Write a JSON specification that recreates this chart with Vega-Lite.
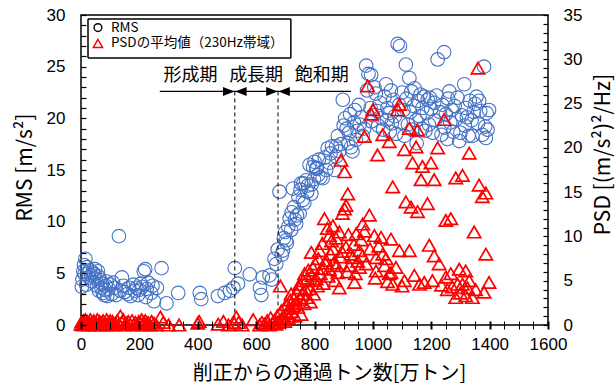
{
  "$schema": "https://vega.github.io/schema/vega-lite/v6.json",
  "width": 467,
  "height": 310,
  "autosize": {"type": "none"},
  "padding": {"left": 81, "top": 15, "right": 68, "bottom": 60},
  "background": "white",
  "config": {
    "view": {"stroke": "black", "strokeWidth": 1.5},
    "axis": {"grid": false, "domain": false, "ticks": true, "tickColor": "black", "tickWidth": 1, "labelColor": "black", "labelFont": "Liberation Sans", "labelFontSize": 17, "labelOverlap": false, "labelFlush": false, "titleColor": "black", "titleFont": "Noto Sans CJK JP", "titleFontWeight": "normal"}
  },
  "datasets": {
    "rms": [
      {"x":3,"v":3.7},{"x":5,"v":4.4},{"x":8,"v":5.2},{"x":10,"v":5.8},{"x":15,"v":6.4},{"x":12,"v":4.9},{"x":18,"v":3.9},{"x":20,"v":5.6},{"x":25,"v":5.0},{"x":28,"v":4.6},{"x":30,"v":5.3},{"x":35,"v":4.8},{"x":38,"v":4.2},{"x":40,"v":5.1},{"x":45,"v":4.9},{"x":48,"v":5.4},{"x":50,"v":4.5},{"x":55,"v":3.8},{"x":58,"v":5.2},{"x":60,"v":4.7},{"x":62,"v":3.3},{"x":65,"v":4.4},{"x":70,"v":3.6},{"x":72,"v":4.0},{"x":75,"v":3.1},{"x":80,"v":2.9},{"x":82,"v":3.4},{"x":85,"v":3.8},{"x":88,"v":4.2},{"x":90,"v":2.8},{"x":95,"v":3.5},{"x":100,"v":3.9},{"x":105,"v":3.0},{"x":110,"v":4.1},{"x":115,"v":3.6},{"x":120,"v":2.9},{"x":130,"v":8.6},{"x":135,"v":3.3},{"x":140,"v":4.6},{"x":145,"v":3.8},{"x":150,"v":3.2},{"x":160,"v":3.0},{"x":165,"v":3.6},{"x":170,"v":2.8},{"x":180,"v":3.9},{"x":185,"v":3.3},{"x":190,"v":3.6},{"x":195,"v":2.9},{"x":200,"v":3.4},{"x":205,"v":4.0},{"x":210,"v":3.7},{"x":215,"v":5.2},{"x":220,"v":5.4},{"x":222,"v":2.7},{"x":225,"v":3.5},{"x":230,"v":4.1},{"x":240,"v":3.1},{"x":245,"v":3.8},{"x":250,"v":2.3},{"x":260,"v":3.6},{"x":276,"v":5.5},{"x":293,"v":2.1},{"x":333,"v":3.1},{"x":407,"v":3.1},{"x":412,"v":2.5},{"x":469,"v":2.8},{"x":492,"v":3.1},{"x":510,"v":3.3},{"x":522,"v":3.6},{"x":527,"v":5.5},{"x":538,"v":4.0},{"x":578,"v":4.9},{"x":613,"v":3.6},{"x":618,"v":2.9},{"x":623,"v":4.6},{"x":646,"v":4.8},{"x":654,"v":4.4},{"x":663,"v":6.4},{"x":669,"v":5.9},{"x":674,"v":7.3},{"x":680,"v":12.9},{"x":688,"v":6.8},{"x":692,"v":7.2},{"x":695,"v":8.4},{"x":700,"v":9.0},{"x":703,"v":8.2},{"x":705,"v":7.9},{"x":710,"v":9.5},{"x":715,"v":10.3},{"x":720,"v":9.2},{"x":722,"v":10.9},{"x":726,"v":13.2},{"x":730,"v":11.4},{"x":733,"v":10.2},{"x":737,"v":9.8},{"x":740,"v":10.6},{"x":745,"v":12.4},{"x":749,"v":10.8},{"x":752,"v":13.1},{"x":754,"v":13.7},{"x":760,"v":12.1},{"x":762,"v":13.7},{"x":765,"v":11.8},{"x":771,"v":14.0},{"x":775,"v":12.9},{"x":778,"v":13.5},{"x":783,"v":15.5},{"x":789,"v":12.7},{"x":790,"v":13.6},{"x":795,"v":15.3},{"x":798,"v":14.1},{"x":800,"v":15.8},{"x":806,"v":15.2},{"x":808,"v":15.1},{"x":812,"v":14.5},{"x":815,"v":16.0},{"x":820,"v":14.3},{"x":828,"v":14.2},{"x":835,"v":16.2},{"x":840,"v":15.0},{"x":845,"v":17.1},{"x":851,"v":15.7},{"x":855,"v":16.6},{"x":860,"v":17.3},{"x":868,"v":15.0},{"x":874,"v":16.3},{"x":874,"v":17.3},{"x":880,"v":18.3},{"x":885,"v":16.8},{"x":890,"v":17.5},{"x":897,"v":21.8},{"x":900,"v":19.3},{"x":905,"v":20.0},{"x":910,"v":19.0},{"x":915,"v":17.6},{"x":918,"v":18.6},{"x":922,"v":20.4},{"x":925,"v":17.2},{"x":930,"v":16.8},{"x":935,"v":19.6},{"x":938,"v":20.8},{"x":942,"v":17.9},{"x":948,"v":18.8},{"x":952,"v":21.3},{"x":955,"v":19.4},{"x":960,"v":20.1},{"x":965,"v":18.3},{"x":970,"v":19.0},{"x":977,"v":25.1},{"x":980,"v":22.7},{"x":985,"v":24.3},{"x":994,"v":24.2},{"x":992,"v":21.0},{"x":995,"v":19.7},{"x":1000,"v":20.3},{"x":1005,"v":23.0},{"x":1010,"v":22.4},{"x":1015,"v":20.7},{"x":1018,"v":19.3},{"x":1025,"v":21.5},{"x":1030,"v":20.0},{"x":1035,"v":18.9},{"x":1040,"v":22.1},{"x":1045,"v":23.3},{"x":1048,"v":19.8},{"x":1050,"v":21.0},{"x":1055,"v":20.5},{"x":1058,"v":18.7},{"x":1062,"v":22.7},{"x":1065,"v":19.5},{"x":1070,"v":21.8},{"x":1075,"v":20.2},{"x":1080,"v":18.5},{"x":1085,"v":27.2},{"x":1090,"v":21.3},{"x":1093,"v":27.0},{"x":1095,"v":19.6},{"x":1100,"v":22.5},{"x":1105,"v":20.8},{"x":1108,"v":18.3},{"x":1113,"v":25.2},{"x":1115,"v":21.9},{"x":1120,"v":19.4},{"x":1125,"v":23.9},{"x":1128,"v":20.6},{"x":1132,"v":22.6},{"x":1135,"v":18.9},{"x":1140,"v":21.2},{"x":1143,"v":22.9},{"x":1148,"v":19.8},{"x":1150,"v":17.6},{"x":1155,"v":21.7},{"x":1160,"v":20.2},{"x":1163,"v":22.3},{"x":1168,"v":19.0},{"x":1170,"v":21.0},{"x":1175,"v":22.1},{"x":1180,"v":18.8},{"x":1185,"v":20.5},{"x":1188,"v":21.8},{"x":1192,"v":19.4},{"x":1195,"v":22.0},{"x":1200,"v":20.9},{"x":1205,"v":18.6},{"x":1210,"v":21.5},{"x":1213,"v":19.8},{"x":1218,"v":22.2},{"x":1222,"v":25.7},{"x":1230,"v":20.6},{"x":1235,"v":18.4},{"x":1238,"v":21.3},{"x":1244,"v":26.4},{"x":1245,"v":19.1},{"x":1250,"v":20.4},{"x":1255,"v":18.0},{"x":1258,"v":21.9},{"x":1262,"v":22.6},{"x":1265,"v":19.6},{"x":1270,"v":20.8},{"x":1275,"v":18.7},{"x":1280,"v":21.2},{"x":1285,"v":19.9},{"x":1290,"v":22.0},{"x":1296,"v":17.8},{"x":1300,"v":18.6},{"x":1305,"v":20.3},{"x":1313,"v":23.3},{"x":1315,"v":19.3},{"x":1318,"v":21.0},{"x":1322,"v":20.1},{"x":1328,"v":18.3},{"x":1332,"v":21.7},{"x":1338,"v":19.8},{"x":1341,"v":18.3},{"x":1345,"v":20.6},{"x":1350,"v":21.4},{"x":1355,"v":22.1},{"x":1360,"v":19.5},{"x":1364,"v":21.7},{"x":1368,"v":20.7},{"x":1375,"v":18.4},{"x":1381,"v":25.0},{"x":1385,"v":19.2},{"x":1387,"v":18.1},{"x":1390,"v":20.5},{"x":1393,"v":18.9},{"x":1398,"v":20.8}
    ],
    "psd": [
      {"x":0,"v":0.1},{"x":3,"v":0.4},{"x":6,"v":0.0},{"x":9,"v":0.5},{"x":12,"v":0.2},{"x":15,"v":0.6},{"x":18,"v":0.1},{"x":22,"v":0.4},{"x":25,"v":0.0},{"x":28,"v":0.3},{"x":32,"v":0.6},{"x":35,"v":0.1},{"x":40,"v":0.3},{"x":44,"v":0.5},{"x":48,"v":0.0},{"x":52,"v":0.2},{"x":56,"v":0.6},{"x":60,"v":0.1},{"x":64,"v":0.4},{"x":68,"v":0.0},{"x":72,"v":0.3},{"x":76,"v":0.5},{"x":80,"v":0.1},{"x":84,"v":0.2},{"x":88,"v":0.6},{"x":92,"v":0.0},{"x":96,"v":0.3},{"x":100,"v":0.5},{"x":104,"v":0.1},{"x":108,"v":0.4},{"x":112,"v":0.0},{"x":118,"v":0.2},{"x":124,"v":0.5},{"x":130,"v":0.1},{"x":135,"v":1.0},{"x":140,"v":0.3},{"x":145,"v":0.6},{"x":150,"v":0.0},{"x":156,"v":0.2},{"x":162,"v":0.4},{"x":168,"v":0.1},{"x":175,"v":0.5},{"x":180,"v":0.0},{"x":186,"v":0.3},{"x":192,"v":0.1},{"x":198,"v":0.4},{"x":204,"v":0.2},{"x":208,"v":0.6},{"x":212,"v":0.0},{"x":216,"v":0.3},{"x":220,"v":0.5},{"x":224,"v":0.1},{"x":230,"v":0.3},{"x":236,"v":0.0},{"x":242,"v":0.4},{"x":250,"v":0.2},{"x":258,"v":0.0},{"x":272,"v":0.9},{"x":282,"v":0.3},{"x":300,"v":0.0},{"x":336,"v":0.0},{"x":400,"v":0.2},{"x":405,"v":0.4},{"x":470,"v":0.1},{"x":488,"v":0.4},{"x":505,"v":0.0},{"x":525,"v":0.2},{"x":532,"v":0.9},{"x":540,"v":0.3},{"x":552,"v":0.0},{"x":590,"v":0.6},{"x":612,"v":0.0},{"x":620,"v":0.3},{"x":628,"v":0.1},{"x":638,"v":0.5},{"x":645,"v":0.0},{"x":650,"v":0.8},{"x":656,"v":0.2},{"x":662,"v":0.5},{"x":668,"v":0.1},{"x":672,"v":1.0},{"x":677,"v":0.3},
      {"x":683,"v":4.4},{"x":686,"v":1.6},{"x":690,"v":0.6},{"x":694,"v":1.1},{"x":698,"v":0.4},{"x":703,"v":2.3},{"x":706,"v":1.3},{"x":710,"v":0.8},{"x":714,"v":1.9},{"x":717,"v":2.8},{"x":720,"v":3.5},{"x":723,"v":1.5},{"x":727,"v":2.2},{"x":730,"v":3.0},{"x":733,"v":1.0},{"x":737,"v":2.5},{"x":740,"v":3.6},{"x":743,"v":2.0},{"x":747,"v":4.2},{"x":749,"v":4.6},{"x":752,"v":2.9},{"x":754,"v":1.2},{"x":758,"v":3.5},{"x":761,"v":5.0},{"x":764,"v":2.4},{"x":766,"v":5.8},{"x":770,"v":4.0},{"x":773,"v":3.1},{"x":776,"v":5.3},{"x":779,"v":6.2},{"x":783,"v":4.1},{"x":786,"v":2.6},{"x":789,"v":8.2},{"x":791,"v":5.6},{"x":794,"v":6.5},{"x":797,"v":3.5},{"x":800,"v":5.0},{"x":803,"v":6.9},{"x":806,"v":5.2},{"x":810,"v":4.4},{"x":813,"v":7.5},{"x":817,"v":8.4},{"x":820,"v":5.8},{"x":824,"v":6.4},{"x":827,"v":9.2},{"x":830,"v":4.7},{"x":834,"v":12.0},{"x":837,"v":7.0},{"x":840,"v":7.3},{"x":844,"v":10.9},{"x":847,"v":5.5},{"x":851,"v":10.1},{"x":851,"v":6.3},{"x":855,"v":8.0},{"x":858,"v":9.5},{"x":863,"v":11.2},{"x":863,"v":8.6},{"x":866,"v":7.0},{"x":870,"v":5.0},{"x":874,"v":9.8},{"x":877,"v":6.7},{"x":880,"v":5.9},{"x":885,"v":10.5},{"x":885,"v":4.2},{"x":888,"v":7.7},{"x":891,"v":18.6},{"x":894,"v":8.3},{"x":896,"v":12.6},{"x":903,"v":17.3},{"x":903,"v":13.1},{"x":908,"v":13.5},{"x":908,"v":8.8},{"x":912,"v":6.0},{"x":914,"v":14.8},{"x":916,"v":10.2},{"x":920,"v":6.7},{"x":925,"v":8.0},{"x":931,"v":7.6},{"x":935,"v":9.1},{"x":937,"v":4.8},{"x":940,"v":5.8},{"x":943,"v":10.3},{"x":948,"v":7.2},{"x":954,"v":8.4},{"x":954,"v":6.5},{"x":960,"v":9.6},{"x":965,"v":11.4},{"x":965,"v":7.8},{"x":971,"v":21.3},{"x":971,"v":10.6},{"x":977,"v":6.9},{"x":982,"v":27.0},{"x":988,"v":12.4},{"x":990,"v":8.6},{"x":994,"v":23.8},{"x":1000,"v":24.3},{"x":1005,"v":10.1},{"x":1008,"v":5.3},{"x":1011,"v":7.6},{"x":1011,"v":6.1},{"x":1016,"v":19.2},{"x":1020,"v":8.9},{"x":1028,"v":9.9},{"x":1034,"v":21.5},{"x":1034,"v":8.0},{"x":1040,"v":6.7},{"x":1045,"v":7.5},{"x":1050,"v":4.9},{"x":1056,"v":20.7},{"x":1056,"v":5.8},{"x":1062,"v":9.7},{"x":1062,"v":5.9},{"x":1068,"v":15.6},{"x":1068,"v":4.6},{"x":1079,"v":6.5},{"x":1085,"v":24.3},{"x":1091,"v":24.9},{"x":1091,"v":8.4},{"x":1100,"v":4.4},{"x":1108,"v":19.8},{"x":1108,"v":5.0},{"x":1113,"v":13.9},{"x":1125,"v":22.2},{"x":1125,"v":8.4},{"x":1131,"v":13.3},{"x":1136,"v":18.3},{"x":1142,"v":5.6},{"x":1148,"v":20.1},{"x":1153,"v":22.0},{"x":1153,"v":12.8},{"x":1160,"v":4.6},{"x":1165,"v":16.4},{"x":1170,"v":17.9},{"x":1176,"v":4.8},{"x":1187,"v":13.7},{"x":1193,"v":9.0},{"x":1199,"v":18.3},{"x":1204,"v":5.0},{"x":1210,"v":16.4},{"x":1210,"v":7.8},{"x":1222,"v":20.0},{"x":1227,"v":6.9},{"x":1235,"v":4.5},{"x":1244,"v":23.2},{"x":1250,"v":11.8},{"x":1250,"v":5.4},{"x":1255,"v":4.0},{"x":1267,"v":12.0},{"x":1267,"v":5.8},{"x":1272,"v":4.3},{"x":1284,"v":16.6},{"x":1284,"v":3.1},{"x":1290,"v":4.6},{"x":1296,"v":6.3},{"x":1300,"v":3.6},{"x":1307,"v":16.9},{"x":1307,"v":4.6},{"x":1318,"v":6.1},{"x":1318,"v":3.3},{"x":1324,"v":4.2},{"x":1330,"v":19.4},{"x":1330,"v":5.0},{"x":1341,"v":3.1},{"x":1347,"v":10.5},{"x":1352,"v":4.0},{"x":1360,"v":29.0},{"x":1364,"v":15.8},{"x":1375,"v":14.5},{"x":1381,"v":3.7},{"x":1387,"v":14.9},{"x":1387,"v":8.0},{"x":1398,"v":4.8}
    ],
    "phases": [
      {"x": 375, "v": 24.1, "label": "形成期"},
      {"x": 600, "v": 24.1, "label": "成長期"},
      {"x": 825, "v": 24.1, "label": "飽和期"}
    ],
    "span": [{"x": 270, "x2": 925, "v": 22.6}],
    "bounds": [{"x": 527, "v": 22.6, "v0": 0}, {"x": 675, "v": 22.6, "v0": 0}],
    "heads": [
      {"x": 506, "v": 22.6, "dir": "right"},
      {"x": 548, "v": 22.6, "dir": "left"},
      {"x": 654, "v": 22.6, "dir": "right"},
      {"x": 696, "v": 22.6, "dir": "left"}
    ],
    "keyedges": [
      {"x": 24, "x2": 719, "v": 29.62, "v2": 29.62},
      {"x": 24, "x2": 719, "v": 25.85, "v2": 25.85},
      {"x": 24, "x2": 24, "v": 29.62, "v2": 25.85},
      {"x": 719, "x2": 719, "v": 29.62, "v2": 25.85}
    ],
    "key": [
      {"x": 58, "v": 28.78, "label": "RMS", "s": "RMS"},
      {"x": 58, "v": 27.25, "label": "PSDの平均値（230Hz帯域）", "s": "PSD"}
    ]
  },
  "encoding": {
    "x": {"field": "x", "type": "quantitative", "scale": {"domain": [0, 1600], "nice": false},
      "axis": {"values": [0,50,100,150,200,250,300,350,400,450,500,550,600,650,700,750,800,850,900,950,1000,1050,1100,1150,1200,1250,1300,1350,1400,1450,1500,1550,1600],
        "format": "d", "labelExpr": "datum.value % 200 === 0 ? datum.label : ''", "ticks": true, "tickOpacity": 1, "tickColor": "black", "zindex": 1, "offset": -4, "tickSize": 8, "tickWidth": {"condition": {"test": "datum.value % 200 === 0", "value": 2}, "value": 1}, "labelPadding": 7,
        "title": "削正からの通過トン数[万トン]", "titleFontSize": 20, "titleX": 248, "titleY": 52, "titleBaseline": "middle", "titleAnchor": "middle"}}
  },
  "layer": [
    {
      "encoding": {
        "y": {"field": "v", "type": "quantitative", "scale": {"domain": [0, 30], "nice": false},
          "axis": {"orient": "left", "values": [0,1,2,3,4,5,6,7,8,9,10,11,12,13,14,15,16,17,18,19,20,21,22,23,24,25,26,27,28,29,30],
            "labelExpr": "datum.value % 5 === 0 ? datum.label : ''", "ticks": true, "tickOpacity": 1, "tickColor": "black", "tickWidth": 1.2, "zindex": 1, "offset": -5, "tickSize": 5, "labelPadding": 16,
            "title": "RMS [m/s²]", "titleFontSize": 21, "titleAngle": 270, "titleX": -61, "titleY": 152, "titleBaseline": "middle", "titleAlign": "center"}}
      },
      "layer": [
        {
          "data": {"name": "rms"},
          "mark": {"type": "point", "shape": "circle", "filled": false, "size": 185, "strokeWidth": 1.1, "opacity": 1, "color": "#4472C4"},
          "encoding": {}
        },
        {
          "data": {"name": "bounds"},
          "mark": {"type": "rule", "color": "black", "strokeWidth": 1, "strokeDash": [4, 3]},
          "encoding": {"y2": {"field": "v0"}}
        },
        {
          "data": {"name": "span"},
          "mark": {"type": "rule", "color": "black", "strokeWidth": 1.2},
          "encoding": {"x2": {"field": "x2"}}
        },
        {
          "data": {"name": "heads"},
          "transform": [{"filter": "datum.dir === 'right'"}],
          "mark": {"type": "point", "shape": "M-1,-0.8L1,0L-1,0.8Z", "filled": true, "color": "black", "size": 130, "opacity": 1},
          "encoding": {}
        },
        {
          "data": {"name": "heads"},
          "transform": [{"filter": "datum.dir === 'left'"}],
          "mark": {"type": "point", "shape": "M1,-0.8L-1,0L1,0.8Z", "filled": true, "color": "black", "size": 130, "opacity": 1},
          "encoding": {}
        },
        {
          "data": {"name": "phases"},
          "mark": {"type": "text", "font": "Noto Sans CJK JP", "fontSize": 18, "color": "black", "baseline": "middle", "align": "center"},
          "encoding": {"text": {"field": "label"}}
        },
        {
          "data": {"name": "keyedges"},
          "mark": {"type": "rule", "color": "black", "strokeWidth": 1.5, "opacity": 1},
          "encoding": {"x2": {"field": "x2"}, "y2": {"field": "v2"}}
        },
        {
          "data": {"name": "key"},
          "transform": [{"filter": "datum.s === 'RMS'"}],
          "mark": {"type": "point", "shape": "circle", "filled": false, "size": 60, "strokeWidth": 1.4, "color": "black", "opacity": 1},
          "encoding": {}
        },
        {
          "data": {"name": "key"},
          "transform": [{"filter": "datum.s === 'PSD'"}],
          "mark": {"type": "point", "shape": "triangle-up", "filled": false, "size": 85, "strokeWidth": 1.5, "color": "#FF0000", "opacity": 1},
          "encoding": {}
        },
        {
          "data": {"name": "key"},
          "mark": {"type": "text", "font": "Noto Sans CJK JP", "fontSize": 13.5, "color": "black", "baseline": "middle", "align": "left", "dx": 13},
          "encoding": {"text": {"field": "label"}}
        }
      ]
    },
    {
      "data": {"name": "psd"},
      "mark": {"type": "point", "shape": "triangle-up", "filled": false, "size": 175, "strokeWidth": 1.7, "opacity": 1, "color": "#FF0000"},
      "encoding": {
        "y": {"field": "v", "type": "quantitative", "scale": {"domain": [0, 35], "nice": false},
          "axis": {"orient": "right", "values": [0,1,2,3,4,5,6,7,8,9,10,11,12,13,14,15,16,17,18,19,20,21,22,23,24,25,26,27,28,29,30,31,32,33,34,35],
            "labelExpr": "datum.value % 5 === 0 ? datum.label : ''", "ticks": true, "tickOpacity": 1, "tickColor": "black", "tickWidth": 1.2, "zindex": 1, "offset": -5, "tickSize": 5, "labelPadding": 15,
            "title": "PSD [(m/s²)²/Hz]", "titleFontSize": 21, "titleAngle": 270, "titleX": 60, "titleY": 139, "titleBaseline": "middle", "titleAlign": "center"}}
      }
    }
  ],
  "resolve": {"scale": {"y": "independent"}}
}
